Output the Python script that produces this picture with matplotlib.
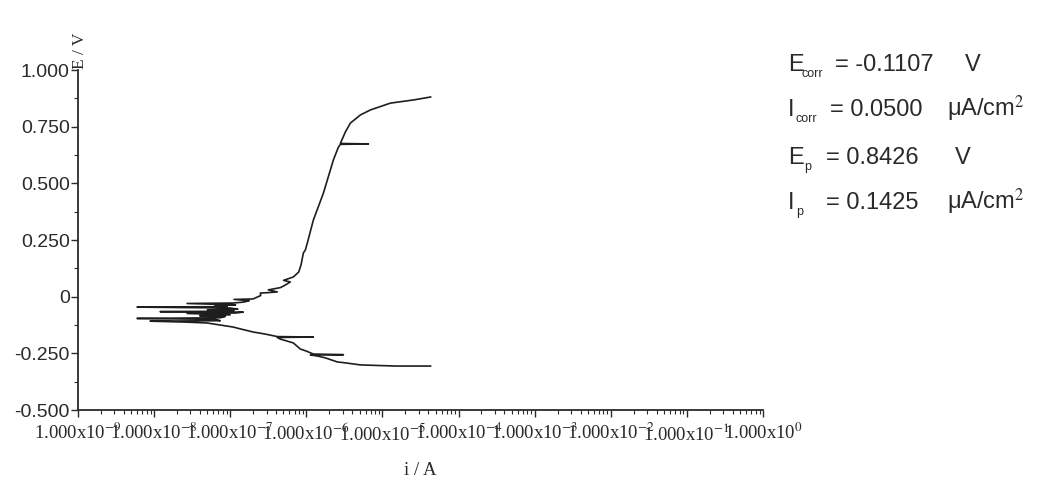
import numpy as np
import matplotlib.pyplot as plt
from matplotlib.ticker import LogLocator, FixedLocator, NullFormatter

plt.rcParams['mathtext.fontset'] = 'stix'

# Polarisation scan: potential (V) and log10 of current (A)
E = [-0.306, -0.306, -0.301, -0.292, -0.288, -0.270, -0.262, -0.257, -0.256, -0.253,
     -0.240, -0.231, -0.204, -0.187, -0.180, -0.178, -0.176, -0.165, -0.156, -0.142,
     -0.134, -0.125, -0.116, -0.112,
     -0.108, -0.106, -0.100, -0.096, -0.093, -0.087, -0.084, -0.080, -0.074, -0.072,
     -0.068, -0.066, -0.064, -0.060, -0.058, -0.055, -0.050, -0.046, -0.044, -0.040,
     -0.036, -0.030, -0.028, -0.024,
     -0.018, -0.012, -0.010, 0.005, 0.016, 0.018, 0.021, 0.030, 0.040, 0.047,
     0.065, 0.072, 0.087, 0.109, 0.140, 0.193, 0.206, 0.237,
     0.338, 0.457, 0.603, 0.660, 0.672, 0.674, 0.676, 0.727, 0.766, 0.802,
     0.824, 0.854, 0.868, 0.881]
log_i = [-4.368, -4.829, -5.289, -5.487, -5.592, -5.750, -5.850, -5.947, -5.513, -5.908,
         -6.000, -6.079, -6.171, -6.342, -6.382, -5.908, -6.382, -6.539, -6.697, -6.868,
         -6.961, -7.132, -7.303, -7.592,
         -8.053, -7.132, -7.197, -8.224, -7.132, -7.066, -7.400, -7.000, -7.566, -6.930,
         -6.829, -7.921, -7.000, -6.950, -7.300, -6.900, -7.000, -8.224, -7.039, -7.200,
         -6.930, -7.566, -6.961, -6.829,
         -6.750, -6.950, -6.700, -6.600, -6.605, -6.500, -6.382, -6.500, -6.342, -6.300,
         -6.211, -6.300, -6.171, -6.100, -6.070, -6.039, -6.013, -5.987,
         -5.908, -5.776, -5.645, -5.579, -5.553, -5.184, -5.553, -5.487, -5.421, -5.289,
         -5.158, -4.895, -4.592, -4.368]

x_exponents = list(range(-9, 1))
x_ticklabels = ["1.000x10$^{%d}$" % k for k in x_exponents]
y_ticks = [-0.5, -0.25, 0, 0.25, 0.5, 0.75, 1.0]
y_ticklabels = ["-0.500", "-0.250", "0", "0.250", "0.500", "0.750", "1.000"]

param_names = ["E", "I", "E", "I"]
param_subs = ["corr", "corr", "p", "p"]
param_values = ["= -0.1107", "= 0.0500", "= 0.8426", "= 0.1425"]
param_units = ["V", "μA/cm$^2$", "V", "μA/cm$^2$"]

current = 10.0 ** np.array(log_i)
ink = '#2a2a2a'

fig = plt.figure(figsize=(10.53, 4.88), dpi=100)
ax = fig.add_axes([0.0741, 0.1598, 0.6505, 0.6967])

ax.plot(current, E, color='#1e1e1e', lw=1.2)

ax.set_xscale('log')
ax.set_xlim(1e-9, 1e0)
ax.set_ylim(-0.5, 1.0)
ax.spines['top'].set_visible(False)
ax.spines['right'].set_visible(False)
for s in ('left', 'bottom'):
    ax.spines[s].set_linewidth(1.3)
    ax.spines[s].set_color(ink)

ax.xaxis.set_major_locator(FixedLocator([10.0 ** k for k in x_exponents]))
ax.set_xticklabels(x_ticklabels, fontfamily='Liberation Serif', fontsize=13.5, color=ink)
ax.xaxis.set_minor_locator(LogLocator(base=10, subs=np.arange(2, 10), numticks=20))
ax.xaxis.set_minor_formatter(NullFormatter())
ax.tick_params(axis='x', which='major', direction='out', length=5, width=1, pad=4, colors=ink)
ax.tick_params(axis='x', which='minor', direction='out', length=3, width=0.8, colors=ink)

ax.set_yticks(y_ticks)
ax.set_yticklabels(y_ticklabels, fontfamily='Liberation Sans', fontsize=14, color=ink)
ax.set_yticks(np.arange(-0.375, 1.0, 0.25), minor=True)
ax.tick_params(axis='y', which='major', direction='out', length=5, width=1, pad=1, colors=ink)
ax.tick_params(axis='y', which='minor', direction='out', length=3, width=0.8, colors=ink)

fig.text(0.0755, 0.895, "E / V", rotation=90, ha='center', va='center',
         fontfamily='Liberation Serif', fontsize=12.5, color=ink)
fig.text(0.399, 0.035, "i / A", ha='center', va='center',
         fontfamily='Liberation Serif', fontsize=13.5, color=ink)

# parameter block on the right
baselines = [71, 116, 164, 209]
sub_x = [802, 796, 804, 796]
value_x = [835, 830, 826, 826]
unit_x = [965, 947, 955, 947]
for k in range(4):
    yb = 1 - baselines[k] / 488
    fig.text(788 / 1053, yb, param_names[k], ha='left', va='baseline',
             fontfamily='Liberation Sans', fontsize=17, color=ink)
    fig.text(sub_x[k] / 1053, yb - 6 / 488, param_subs[k], ha='left', va='baseline',
             fontfamily='Liberation Sans', fontsize=9, color=ink)
    fig.text(value_x[k] / 1053, yb, param_values[k], ha='left', va='baseline',
             fontfamily='Liberation Sans', fontsize=17, color=ink)
    fig.text(unit_x[k] / 1053, yb, param_units[k], ha='left', va='baseline',
             fontfamily='Liberation Sans', fontsize=17, color=ink)

fig.savefig('out.png', dpi=100)
